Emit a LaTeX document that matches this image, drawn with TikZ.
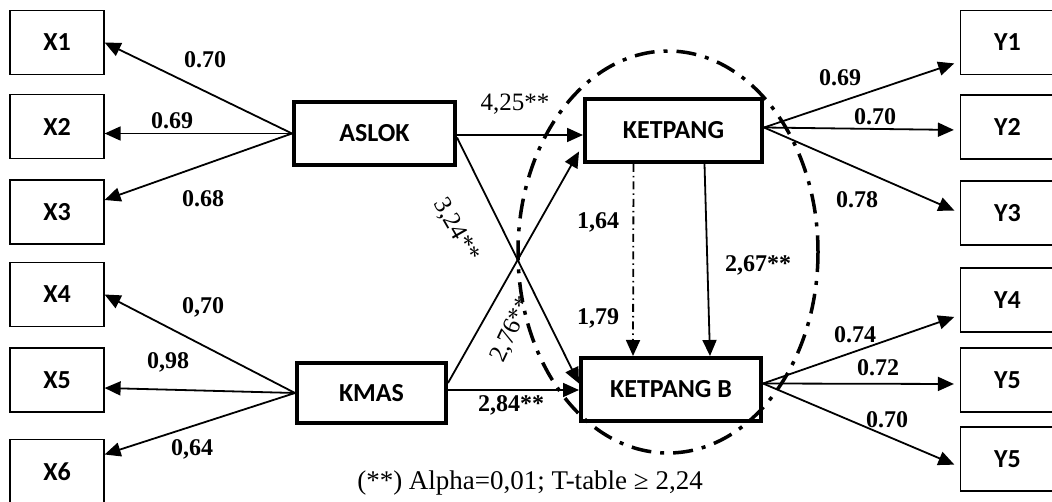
\documentclass[tikz,border=0pt]{standalone}
\usepackage{fontspec}
\setmainfont{Liberation Serif}
\newfontfamily\boxfont{Carlito}
\usetikzlibrary{arrows.meta,calc}

\begin{document}
\begin{tikzpicture}[x=1pt, y=-1pt,
    indicator/.style={rectangle, draw, line width=1.2pt, minimum width=94pt, minimum height=64pt, font={\boxfont\bfseries\fontsize{26}{30}\selectfont}},
    construct/.style={rectangle, draw, line width=4pt, minimum height=63pt, font={\boxfont\bfseries\fontsize{26}{30}\selectfont}},
    arrow/.style={-{Triangle[length=16pt,width=14pt]}, line width=1.8pt},
    coef/.style={font={\bfseries\fontsize{24}{28}\selectfont}},
    coefr/.style={font={\fontsize{25}{28}\selectfont}}
]
    \clip (0,0) rectangle (1052,502);

    % indikator X
    \node[indicator] (x1) at (57,42.5) {X1};
    \node[indicator] (x2) at (57,126.5) {X2};
    \node[indicator] (x3) at (57,212) {X3};
    \node[indicator] (x4) at (57,294.5) {X4};
    \node[indicator] (x5) at (57,380) {X5};
    \node[indicator] (x6) at (57,471.5) {X6};

    % indikator Y
    \node[indicator] (y1) at (1007.5,42.5) {Y1};
    \node[indicator] (y2) at (1007.5,127) {Y2};
    \node[indicator] (y3) at (1007.5,213) {Y3};
    \node[indicator] (y4) at (1007.5,300) {Y4};
    \node[indicator] (y5) at (1007.5,380) {Y5};
    \node[indicator] (y6) at (1007.5,459) {Y5};

    % konstruk
    \node[construct, minimum width=161pt] (aslok) at (374.5,133.5) {ASLOK};
    \node[construct, minimum width=149pt, minimum height=59pt] (kmas) at (371.5,393) {KMAS};
    \node[construct, minimum width=177pt] (ketpang) at (673.5,130.5) {KETPANG};
    \node[construct, minimum width=180pt] (ketpangb) at (671,389.5) {KETPANG B};

    % loading X
    \draw[arrow] (aslok.west) -- (x1.east);
    \draw[arrow] (aslok.west) -- ([yshift=-7pt]x2.east);
    \draw[arrow] (aslok.west) -- ([yshift=12pt]x3.east);
    \draw[arrow] (kmas.west) -- (x4.east);
    \draw[arrow] (kmas.west) -- ([yshift=-8pt]x5.east);
    \draw[arrow] (kmas.west) -- ([yshift=17pt]x6.east);

    % loading Y
    \draw[arrow, shorten >=6pt] ([yshift=3pt]ketpang.east) -- ([yshift=-19pt]y1.west);
    \draw[arrow, shorten >=6pt] ([yshift=3pt]ketpang.east) -- ([yshift=-3pt]y2.west);
    \draw[arrow, shorten >=6pt] ([yshift=3pt]ketpang.east) -- (y3.west);
    \draw[arrow, shorten >=6pt] ([yshift=6pt]ketpangb.east) -- ([yshift=-15pt]y4.west);
    \draw[arrow, shorten >=6pt] ([yshift=6pt]ketpangb.east) -- ([yshift=-4pt]y5.west);
    \draw[arrow, shorten >=6pt] ([yshift=6pt]ketpangb.east) -- ([yshift=-8pt]y6.west);

    % jalur struktural
    \draw[arrow] ([yshift=-1.5pt]aslok.east) -- ([yshift=-1.5pt]aslok.east -| ketpang.west);
    \draw[arrow] ([yshift=-4pt]aslok.east) -- ([yshift=6pt]ketpangb.west);
    \draw[arrow, shorten >=8pt] ([yshift=10pt]kmas.east) -- ([yshift=-14pt]ketpang.west);
    \draw[arrow] ([yshift=3pt]kmas.east) -- ([yshift=3pt]kmas.east -| ketpangb.west);
    \draw[arrow, dash pattern=on 8pt off 4pt on 1.5pt off 4pt] ([xshift=-40pt]ketpang.south) -- ([xshift=-38pt]ketpangb.north);
    \draw[arrow] ([xshift=31pt]ketpang.south) -- ([xshift=39pt]ketpangb.north);

    % koefisien
    \node[coef] (l1) at (205,60) {0.70};
    \node[coef] (l2) at (172,121) {0.69};
    \node[coef] (l3) at (203,199) {0.68};
    \node[coef] (l4) at (203,307) {0,70};
    \node[coef] (l5) at (168,362) {0,98};
    \node[coef] (l6) at (192,449) {0,64};
    \node[coefr] (l7) at (515,104) {4,25**};
    \node[coefr, rotate=-60] (l8) at (456,230) {3,24**};
    \node[coefr, rotate=65] (l9) at (512,330) {2,76**};
    \node[coef] (l10) at (511,405) {2,84**};
    \node[coef] (l11) at (598,222) {1,64};
    \node[coef] (l12) at (598,318) {1,79};
    \node[coef] (l13) at (758,265) {2,67**};
    \node[coef] (l14) at (840,78) {0.69};
    \node[coef] (l15) at (875,117) {0.70};
    \node[coef] (l16) at (857,200) {0.78};
    \node[coef] (l17) at (855,335) {0.74};
    \node[coef] (l18) at (878,368) {0.72};
    \node[coef] (l19) at (887,420) {0.70};

    % elips
    \draw[line width=3.5pt, dash pattern=on 20pt off 9pt on 4pt off 9pt] (668,252) ellipse [x radius=150, y radius=201];

    % keterangan
    \node[font={\fontsize{27}{30}\selectfont}] (note) at (530,483) {(**) Alpha=0,01; T-table ≥ 2,24};
\end{tikzpicture}
\end{document}
